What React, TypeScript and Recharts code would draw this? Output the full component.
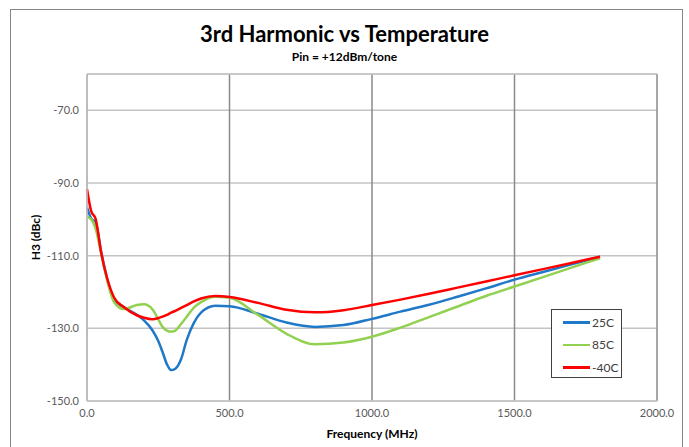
import { CartesianGrid, Line, LineChart, ReferenceLine, XAxis, YAxis } from 'recharts'

const FREQ = [0, 15, 30, 50, 70, 95, 130, 175, 200, 230, 250, 265, 280, 295, 310, 330, 350, 375, 400, 450, 500, 600, 700, 800, 900, 1000, 1100, 1200, 1300, 1400, 1500, 1600, 1700, 1800]

const H3_25C = [-96.7, -99.8, -100.8, -109, -116.2, -122, -124.2, -126.3, -127.8, -130.6, -133.5, -136.5, -139.8, -141.5, -141.1, -138.5, -133.2, -128.5, -125.7, -123.8, -123.9, -126, -128.4, -129.6, -129.1, -127.4, -125.4, -123.5, -121.3, -119, -116.6, -114.5, -112.4, -110.3]
const H3_85C = [-99.3, -100, -102.5, -109.5, -116.5, -122.8, -124.7, -123.6, -123.4, -124.8, -127.5, -129.6, -130.6, -130.9, -130.6, -128.8, -126.8, -124.3, -122.8, -121.3, -121.6, -126.3, -131.5, -134.4, -133.9, -132.3, -129.8, -126.9, -124, -121.1, -118.5, -115.9, -113.3, -110.7]
const H3_M40C = [-91.7, -97.8, -99.8, -109.3, -116, -121.5, -124.2, -126.4, -127.1, -127.5, -127.2, -126.8, -126.3, -125.7, -125.2, -124.4, -123.6, -122.6, -121.8, -121.1, -121.4, -123, -124.9, -125.6, -125, -123.6, -122.1, -120.5, -118.8, -117.1, -115.4, -113.7, -112, -110.3]

const X_TICKS = [0, 500, 1000, 1500, 2000]
const Y_TICKS = [-150, -130, -110, -90, -70]

const SERIES = [
  { key: 't25', name: '25C', color: '#1f78c8' },
  { key: 't85', name: '85C', color: '#92d050' },
  { key: 'tm40', name: '-40C', color: '#ff0000' },
]

const rows = FREQ.map((f, i) => ({ f, t25: H3_25C[i], t85: H3_85C[i], tm40: H3_M40C[i] }))

const FONT = 'Lato, "Open Sans", sans-serif'
const tick = { fill: '#595959', fontSize: 11, fontFamily: FONT }

function LegendBox() {
  return (
    <div
      style={{
        position: 'absolute',
        left: 551,
        top: 309,
        border: '1.5px solid #404040',
        background: '#fff',
        width: 71,
        height: 69,
        boxSizing: 'border-box',
        padding: '1px 0 0 11px',
        fontFamily: FONT,
        fontSize: 12,
        color: '#404040',
      }}
    >
      {SERIES.map((s) => (
        <div key={s.key} style={{ display: 'flex', alignItems: 'center', height: 22.5 }}>
          <span style={{ width: 27, height: 2.5, background: s.color, display: 'inline-block', marginRight: 2 }} />
          <span>{s.name}</span>
        </div>
      ))}
    </div>
  )
}

export default function App() {
  return (
    <div style={{ position: 'absolute', left: 0, top: 0, width: 689, height: 447, background: '#fff', overflow: 'hidden' }}>
      <div
        style={{
          position: 'absolute',
          left: 10,
          top: 9,
          width: 673,
          height: 460,
          border: '1.5px solid #868686',
          boxSizing: 'border-box',
        }}
      />
      <div
        style={{
          position: 'absolute',
          left: 0,
          width: 689,
          top: 20,
          textAlign: 'center',
          fontFamily: FONT,
          fontWeight: 700,
          fontSize: 22,
          color: '#000',
        }}
      >
        3rd Harmonic vs Temperature
      </div>
      <div
        style={{
          position: 'absolute',
          left: 0,
          width: 689,
          top: 49,
          textAlign: 'center',
          fontFamily: FONT,
          fontWeight: 700,
          fontSize: 12,
          color: '#000',
        }}
      >
        Pin = +12dBm/tone
      </div>
      <div style={{ position: 'absolute', left: 0, top: 0 }}>
        <LineChart width={689} height={447} data={rows} margin={{ top: 74, right: 32, left: 0, bottom: 0 }}>
          <CartesianGrid vertical={false} stroke="#c4c4c4" strokeWidth={1.5} />
          <CartesianGrid horizontal={false} stroke="#8a8a8a" strokeWidth={1.5} />
          <ReferenceLine y={-60} stroke="#c4c4c4" strokeWidth={1.5} />
          <XAxis
            type="number"
            dataKey="f"
            domain={[0, 2000]}
            ticks={X_TICKS}
            tickFormatter={(v: number) => v.toFixed(1)}
            tick={tick}
            tickLine={false}
            axisLine={{ stroke: '#c4c4c4', strokeWidth: 1.5 }}
            height={46}
            label={{
              value: 'Frequency (MHz)',
              position: 'insideBottom',
              offset: 9,
              style: { fontFamily: FONT, fontWeight: 700, fontSize: 12, fill: '#000' },
            }}
          />
          <YAxis
            type="number"
            domain={[-150, -60]}
            ticks={Y_TICKS}
            tickFormatter={(v: number) => v.toFixed(1)}
            tick={tick}
            tickLine={false}
            axisLine={{ stroke: '#c4c4c4', strokeWidth: 1.5 }}
            width={87}
            allowDataOverflow
            label={{
              value: 'H3 (dBc)',
              angle: -90,
              position: 'insideLeft',
              offset: 36,
              style: { fontFamily: FONT, fontWeight: 700, fontSize: 12, fill: '#000', textAnchor: 'middle' },
            }}
          />
          {SERIES.map((s) => (
            <Line
              key={s.key}
              type="monotone"
              dataKey={s.key}
              name={s.name}
              stroke={s.color}
              strokeWidth={2.5}
              dot={false}
              isAnimationActive={false}
            />
          ))}
        </LineChart>
      </div>
      <LegendBox />
    </div>
  )
}
